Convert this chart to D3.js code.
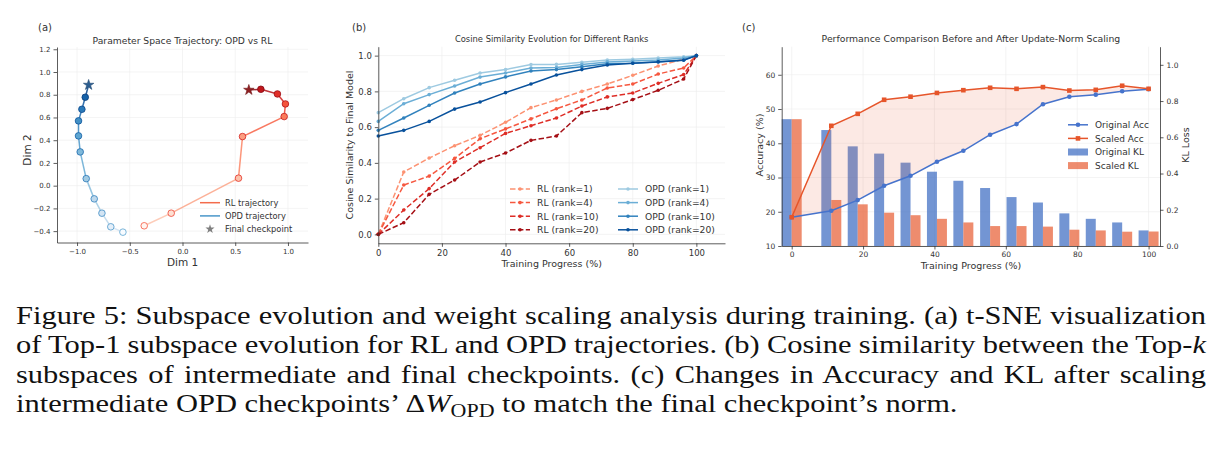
<!DOCTYPE html>
<html>
<head>
<meta charset="utf-8">
<script src="https://cdn.jsdelivr.net/npm/d3@7"></script>
<style>
  body { margin: 0; background: #fff; }
  svg text { font-family: "DejaVu Sans", sans-serif; }
</style>
</head>
<body>
<svg width="1218" height="450"></svg>
<script>
// ---- panel (a): t-SNE trajectories, start -> final checkpoint
const opdX = [-0.565, -0.68, -0.764, -0.837, -0.913, -0.97, -0.986, -0.986, -0.954, -0.922, -0.89];
const opdY = [-0.409, -0.362, -0.242, -0.116, 0.062, 0.297, 0.438, 0.57, 0.672, 0.778, 0.886];
const rlX = [-0.363, -0.107, 0.531, 0.569, 0.964, 0.976, 0.9, 0.743, 0.629];
const rlY = [-0.353, -0.242, 0.066, 0.432, 0.608, 0.719, 0.807, 0.848, 0.842];
const aTicksX = [-1.0, -0.5, 0.0, 0.5, 1.0];
const aTicksY = [-0.4, -0.2, 0.0, 0.2, 0.4, 0.6, 0.8, 1.0, 1.2];

// ---- panel (b): cosine similarity to final model
const progressB = [0, 8, 16, 24, 32, 40, 48, 56, 64, 72, 80, 88, 96, 100];
const rlRank1 = [0, 0.349, 0.427, 0.496, 0.554, 0.627, 0.709, 0.752, 0.80, 0.841, 0.89, 0.942, 0.98, 1.0];
const rlRank4 = [0, 0.276, 0.326, 0.425, 0.535, 0.59, 0.646, 0.703, 0.752, 0.819, 0.841, 0.897, 0.931, 1.0];
const rlRank10 = [0, 0.136, 0.256, 0.405, 0.485, 0.565, 0.608, 0.651, 0.718, 0.769, 0.791, 0.845, 0.894, 1.0];
const rlRank20 = [0, 0.065, 0.224, 0.304, 0.405, 0.455, 0.526, 0.55, 0.681, 0.705, 0.754, 0.806, 0.869, 1.0];
const opdRank1 = [0.681, 0.759, 0.821, 0.862, 0.903, 0.922, 0.95, 0.951, 0.963, 0.976, 0.98, 0.987, 0.994, 1.0];
const opdRank4 = [0.632, 0.731, 0.782, 0.83, 0.88, 0.903, 0.931, 0.933, 0.951, 0.965, 0.97, 0.976, 0.987, 1.0];
const opdRank10 = [0.582, 0.651, 0.722, 0.791, 0.841, 0.881, 0.914, 0.922, 0.938, 0.955, 0.957, 0.966, 0.976, 1.0];
const opdRank20 = [0.55, 0.582, 0.632, 0.701, 0.741, 0.793, 0.841, 0.892, 0.922, 0.948, 0.957, 0.965, 0.974, 1.0];
const bTicksX = [0, 20, 40, 60, 80, 100];
const bTicksY = [0.0, 0.2, 0.4, 0.6, 0.8, 1.0];

// ---- panel (c): accuracy / KL before and after scaling
const progressC = [0, 11.1, 18.5, 25.9, 33.3, 40.7, 48.1, 55.6, 63.0, 70.4, 77.8, 85.2, 92.6, 100];
const origAcc = [18.4, 20.3, 23.4, 27.6, 30.5, 34.6, 37.8, 42.5, 45.6, 51.4, 53.6, 54.2, 55.2, 55.8];
const scaledAcc = [18.4, 45.1, 48.6, 52.7, 53.6, 54.7, 55.5, 56.2, 55.9, 56.4, 55.4, 55.6, 56.8, 55.9];
const origKL = [0.70, 0.64, 0.55, 0.51, 0.46, 0.41, 0.36, 0.32, 0.27, 0.24, 0.18, 0.15, 0.13, 0.086];
const scaledKL = [0.70, 0.254, 0.23, 0.184, 0.17, 0.15, 0.13, 0.11, 0.11, 0.107, 0.09, 0.086, 0.079, 0.08];
const cTicksX = [0, 20, 40, 60, 80, 100];
const cTicksAcc = [10, 20, 30, 40, 50, 60];
const cTicksKL = [0.0, 0.2, 0.4, 0.6, 0.8, 1.0];

const ink = "#333";
const gridCol = "#ececec";
const svg = d3.select("svg");
svg.append("rect").attr("width", 1218).attr("height", 450).attr("fill", "#fff");

function styleAxis(g, fs) {
  g.attr("font-family", "DejaVu Sans").attr("font-size", fs);
  g.select(".domain").attr("stroke", ink).attr("stroke-width", 0.8);
  g.selectAll(".tick line").attr("stroke", ink).attr("stroke-width", 0.8);
  g.selectAll(".tick text").attr("fill", ink);
}

function grid(g, xs, ys, xt, yt) {
  const gg = g.append("g");
  xt.forEach(v => gg.append("line").attr("x1", xs(v)).attr("x2", xs(v))
    .attr("y1", ys.range()[0]).attr("y2", ys.range()[1]).attr("stroke", gridCol).attr("stroke-width", 0.6));
  yt.forEach(v => gg.append("line").attr("y1", ys(v)).attr("y2", ys(v))
    .attr("x1", xs.range()[0]).attr("x2", xs.range()[1]).attr("stroke", gridCol).attr("stroke-width", 0.6));
}

function label(x, y, txt, fs, rot, anchor) {
  const t = svg.append("text").attr("x", x).attr("y", y).attr("font-size", fs)
    .attr("fill", ink).attr("text-anchor", anchor || "middle").text(txt);
  if (rot) t.attr("transform", "rotate(" + rot + "," + x + "," + y + ")");
  return t;
}

// =============== panel (a) ===============
const ax = d3.scaleLinear().domain([-1.19, 1.19]).range([57, 308]);
const ay = d3.scaleLinear().domain([-0.5, 1.22]).range([242.5, 47]);
const pa = svg.append("g");
grid(pa, ax, ay, aTicksX, aTicksY);

function trajectory(xs, ys, interp, starFill) {
  const n = xs.length;
  const t = i => i / (n - 1);
  for (let i = 0; i < n - 1; i++) {
    pa.append("line")
      .attr("x1", ax(xs[i])).attr("y1", ay(ys[i]))
      .attr("x2", ax(xs[i + 1])).attr("y2", ay(ys[i + 1]))
      .attr("stroke", interp(0.12 + 0.8 * t(i + 1))).attr("stroke-width", 1.5).attr("opacity", 0.85);
  }
  for (let i = 0; i < n - 1; i++) {
    pa.append("circle").attr("cx", ax(xs[i])).attr("cy", ay(ys[i])).attr("r", 3.3)
      .attr("fill", interp(0.9 * t(i))).attr("stroke", interp(0.55 + 0.45 * t(i)))
      .attr("stroke-width", 0.8);
  }
  pa.append("path").attr("d", d3.symbol(d3.symbolStar, 34)())
    .attr("transform", "translate(" + ax(xs[n - 1]) + "," + ay(ys[n - 1]) + ")")
    .attr("fill", starFill).attr("stroke", d3.color(starFill).darker(0.6)).attr("stroke-width", 0.6);
}
trajectory(opdX, opdY, d3.interpolateBlues, "#2c5d8f");
trajectory(rlX, rlY, d3.interpolateReds, "#8e2022");

styleAxis(pa.append("g").attr("transform", "translate(0,242.5)")
  .call(d3.axisBottom(ax).tickValues(aTicksX).tickFormat(d3.format(".1f")).tickSize(3.5).tickSizeOuter(0).tickPadding(3)), 7);
styleAxis(pa.append("g").attr("transform", "translate(57,0)")
  .call(d3.axisLeft(ay).tickValues(aTicksY).tickFormat(d3.format(".1f")).tickSize(3.5).tickSizeOuter(0).tickPadding(3)), 7);

label(182.5, 44, "Parameter Space Trajectory: OPD vs RL", 9.2);
label(31, 150, "Dim 2", 10.5, -90);
label(182.5, 266, "Dim 1", 10.5);
label(38, 31, "(a)", 10, 0, "start");

const legA = [
  { name: "RL trajectory", kind: "line", color: "#f36c4c" },
  { name: "OPD trajectory", kind: "line", color: "#4a97c9" },
  { name: "Final checkpoint", kind: "star", color: "#808080" }
];
legA.forEach((d, i) => {
  const y = 202.7 + i * 13.2;
  if (d.kind === "line") {
    pa.append("line").attr("x1", 200).attr("x2", 220).attr("y1", y).attr("y2", y)
      .attr("stroke", d.color).attr("stroke-width", 1.5);
  } else {
    pa.append("path").attr("d", d3.symbol(d3.symbolStar, 26)())
      .attr("transform", "translate(210," + y + ")").attr("fill", d.color);
  }
  label(225, y + 3, d.name, 8.3, 0, "start");
});

// =============== panel (b) ===============
const bx = d3.scaleLinear().domain([0, 109]).range([378.3, 725]);
const by = d3.scaleLinear().domain([-0.05, 1.05]).range([243.3, 46.7]);
const pb = svg.append("g");
grid(pb, bx, by, bTicksX, bTicksY);

const bSeries = [
  { name: "RL (rank=1)", vals: rlRank1, color: "#fc9272", dash: true },
  { name: "RL (rank=4)", vals: rlRank4, color: "#f6573f", dash: true },
  { name: "RL (rank=10)", vals: rlRank10, color: "#de2d26", dash: true },
  { name: "RL (rank=20)", vals: rlRank20, color: "#a50f15", dash: true },
  { name: "OPD (rank=1)", vals: opdRank1, color: "#9ecae1", dash: false },
  { name: "OPD (rank=4)", vals: opdRank4, color: "#6baed6", dash: false },
  { name: "OPD (rank=10)", vals: opdRank10, color: "#3182bd", dash: false },
  { name: "OPD (rank=20)", vals: opdRank20, color: "#08519c", dash: false }
];
const lineB = d3.line().x((d, i) => bx(progressB[i])).y(d => by(d));
bSeries.forEach(s => {
  pb.append("path").attr("d", lineB(s.vals)).attr("fill", "none")
    .attr("stroke", s.color).attr("stroke-width", 1.5)
    .attr("stroke-dasharray", s.dash ? "5.5,2.4" : null);
  pb.selectAll(null).data(s.vals).enter().append("circle")
    .attr("cx", (d, i) => bx(progressB[i])).attr("cy", d => by(d)).attr("r", 1.8)
    .attr("fill", s.color);
});

styleAxis(pb.append("g").attr("transform", "translate(0,243.3)")
  .call(d3.axisBottom(bx).tickValues(bTicksX).tickSize(3.5).tickSizeOuter(0).tickPadding(3)), 8.5);
styleAxis(pb.append("g").attr("transform", "translate(378.3,0)")
  .call(d3.axisLeft(by).tickValues(bTicksY).tickFormat(d3.format(".1f")).tickSize(3.5).tickSizeOuter(0).tickPadding(3)), 8.5);

label(551.7, 42, "Cosine Similarity Evolution for Different Ranks", 8.4);
label(353, 145, "Cosine Similarity to Final Model", 9.5, -90);
label(551.7, 266.5, "Training Progress (%)", 9.5);
label(352, 31, "(b)", 10, 0, "start");

bSeries.forEach((s, i) => {
  const col = i < 4 ? 0 : 1;
  const x0 = col === 0 ? 510 : 618;
  const y = 189 + (i % 4) * 13.6;
  pb.append("line").attr("x1", x0).attr("x2", x0 + 20).attr("y1", y).attr("y2", y)
    .attr("stroke", s.color).attr("stroke-width", 1.5)
    .attr("stroke-dasharray", s.dash ? "5.5,2.4" : null);
  pb.append("circle").attr("cx", x0 + 10).attr("cy", y).attr("r", 1.8).attr("fill", s.color);
  label(x0 + 27, y + 3.3, s.name, 9.2, 0, "start");
});

// =============== panel (c) ===============
const cx = d3.scaleLinear().domain([-2.8, 103.2]).range([781.7, 1160]);
const cyA = d3.scaleLinear().domain([10, 68.2]).range([246, 46.7]);
const cyK = d3.scaleLinear().domain([0, 1.1]).range([246, 46.7]);
const pc = svg.append("g");
grid(pc, cx, cyA, cTicksX, cTicksAcc);

const barW = cx(2.8) - cx(0);
const blue = "#4472c4", orange = "#e8663d";
pc.selectAll(null).data(origKL).enter().append("rect")
  .attr("x", (d, i) => cx(progressC[i]) - barW).attr("width", barW)
  .attr("y", d => cyK(d)).attr("height", d => cyK(0) - cyK(d))
  .attr("fill", blue).attr("fill-opacity", 0.75);
pc.selectAll(null).data(scaledKL).enter().append("rect")
  .attr("x", (d, i) => cx(progressC[i])).attr("width", barW)
  .attr("y", d => cyK(d)).attr("height", d => cyK(0) - cyK(d))
  .attr("fill", orange).attr("fill-opacity", 0.75);

const gap = d3.area().x((d, i) => cx(progressC[i]))
  .y0((d, i) => cyA(origAcc[i])).y1(d => cyA(d));
pc.append("path").attr("d", gap(scaledAcc)).attr("fill", orange).attr("fill-opacity", 0.14);

const lineC = d3.line().x((d, i) => cx(progressC[i])).y(d => cyA(d));
const accBlue = "#4673cc", accOrange = "#e6552a";
pc.append("path").attr("d", lineC(origAcc)).attr("fill", "none").attr("stroke", accBlue).attr("stroke-width", 1.5);
pc.append("path").attr("d", lineC(scaledAcc)).attr("fill", "none").attr("stroke", accOrange).attr("stroke-width", 1.5);
pc.selectAll(null).data(origAcc).enter().append("circle")
  .attr("cx", (d, i) => cx(progressC[i])).attr("cy", d => cyA(d)).attr("r", 2.3).attr("fill", accBlue);
pc.selectAll(null).data(scaledAcc).enter().append("rect")
  .attr("x", (d, i) => cx(progressC[i]) - 2.3).attr("y", d => cyA(d) - 2.3)
  .attr("width", 4.6).attr("height", 4.6).attr("fill", accOrange);

styleAxis(pc.append("g").attr("transform", "translate(0,246)")
  .call(d3.axisBottom(cx).tickValues(cTicksX).tickSize(3.5).tickSizeOuter(0).tickPadding(2.5)), 7.5);
styleAxis(pc.append("g").attr("transform", "translate(781.7,0)")
  .call(d3.axisLeft(cyA).tickValues(cTicksAcc).tickSize(3.5).tickSizeOuter(0).tickPadding(3)), 7.5);
styleAxis(pc.append("g").attr("transform", "translate(1160,0)")
  .call(d3.axisRight(cyK).tickValues(cTicksKL).tickFormat(d3.format(".1f")).tickSize(3.5).tickSizeOuter(0).tickPadding(3)), 7.5);

label(970.9, 42, "Performance Comparison Before and After Update-Norm Scaling", 9.3);
label(763, 145, "Accuracy (%)", 9.5, -90);
label(1189, 145, "KL Loss", 9.5, -90);
label(970.9, 268.5, "Training Progress (%)", 9.5);
label(742, 31, "(c)", 10, 0, "start");

const legC = [
  { name: "Original Acc", kind: "line", color: accBlue, mark: "circle" },
  { name: "Scaled Acc", kind: "line", color: accOrange, mark: "square" },
  { name: "Original KL", kind: "bar", color: blue },
  { name: "Scaled KL", kind: "bar", color: orange }
];
legC.forEach((d, i) => {
  const y = 124.8 + i * 13.6;
  if (d.kind === "line") {
    pc.append("line").attr("x1", 1068).attr("x2", 1088).attr("y1", y).attr("y2", y)
      .attr("stroke", d.color).attr("stroke-width", 1.5);
    if (d.mark === "circle") pc.append("circle").attr("cx", 1078).attr("cy", y).attr("r", 2.3).attr("fill", d.color);
    else pc.append("rect").attr("x", 1075.7).attr("y", y - 2.3).attr("width", 4.6).attr("height", 4.6).attr("fill", d.color);
  } else {
    pc.append("rect").attr("x", 1068).attr("y", y - 3.5).attr("width", 20).attr("height", 7)
      .attr("fill", d.color).attr("fill-opacity", 0.75);
  }
  label(1095, y + 3.3, d.name, 9, 0, "start");
});

// =============== caption ===============
const captionLines = [
  [{ t: "Figure 5: Subspace evolution and weight scaling analysis during training. (a) t-SNE visualization" }],
  [{ t: "of Top-1 subspace evolution for RL and OPD trajectories. (b) Cosine similarity between the Top-" }, { t: "k", it: true }],
  [{ t: "subspaces of intermediate and final checkpoints. (c) Changes in Accuracy and KL after scaling" }],
  [{ t: "intermediate OPD checkpoints\u2019 \u0394" }, { t: "W", it: true }, { t: "OPD", sub: true }, { t: " to match the final checkpoint\u2019s norm." }]
];
const capBase = [324, 353.5, 383, 412];
const capLeft = 16, capRight = 1206, lastLineEnd = 958;
const capSize = 25.5;

const capNodes = captionLines.map((parts, li) => {
  const t = svg.append("text").attr("x", 0).attr("y", capBase[li])
    .attr("font-size", capSize)
    .style("font-family", "'Liberation Serif', 'Times New Roman', serif").attr("fill", "#111");
  parts.forEach((p, pi) => {
    const s = t.append("tspan").text(p.t);
    if (p.it) s.attr("font-style", "italic");
    if (p.sub) s.attr("font-size", "0.72em").attr("dy", 5);
    else if (pi > 0 && parts[pi - 1].sub) s.attr("dy", -5);
  });
  return t;
});

// the printed caption is narrower than a plain Times setting: squeeze horizontally
const w4 = capNodes[3].node().getComputedTextLength();
const sx = (lastLineEnd - capLeft) / w4;
capNodes.forEach((t, li) => {
  t.attr("transform", "translate(" + capLeft + ",0) scale(" + sx + ",1)");
  if (li < 3) {
    const w = t.node().getComputedTextLength();
    const spaces = captionLines[li].map(p => p.t).join("").split(" ").length - 1;
    t.attr("word-spacing", ((capRight - capLeft) / sx - w) / spaces);
  }
});
</script>
</body>
</html>
